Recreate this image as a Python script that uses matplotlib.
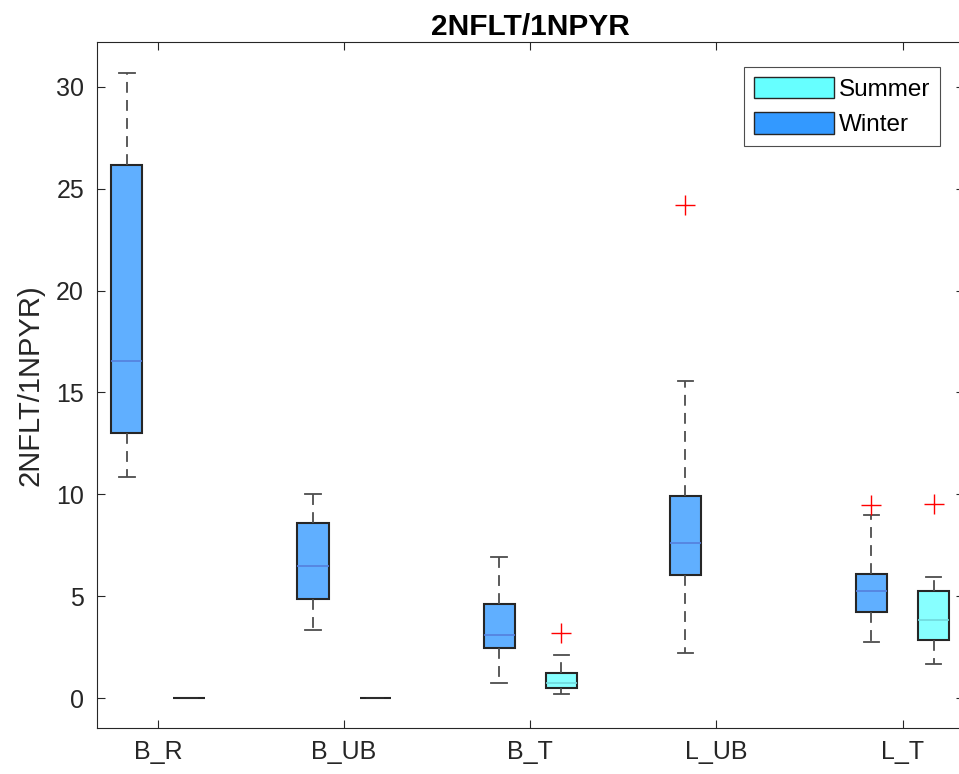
import matplotlib.pyplot as plt
from matplotlib.patches import Patch

plt.rcParams["font.family"] = ["Liberation Sans", "DejaVu Sans"]

sites = ["B_R", "B_UB", "B_T", "L_UB", "L_T"]

# winter box statistics (whisker low, q1, median, q3, whisker high)
winter_low = [10.86, 3.33, 0.73, 2.2, 2.74]
winter_q1 = [13.02, 4.85, 2.46, 6.03, 4.23]
winter_med = [16.53, 6.47, 3.08, 7.6, 5.23]
winter_q3 = [26.15, 8.6, 4.63, 9.93, 6.11]
winter_high = [30.67, 10.0, 6.9, 15.54, 8.96]
winter_fliers = [[], [], [], [24.18], [9.46]]

# summer box statistics
summer_low = [0.0, 0.0, 0.19, 0.0, 1.69]
summer_q1 = [0.0, 0.0, 0.48, 0.0, 2.83]
summer_med = [0.0, 0.0, 0.76, 0.0, 3.85]
summer_q3 = [0.0, 0.0, 1.25, 0.0, 5.24]
summer_high = [0.0, 0.0, 2.12, 0.0, 5.96]
summer_fliers = [[], [], [3.2], [], [9.52]]
summer_present = [True, True, True, False, True]


def make_stats(low, q1, med, q3, high, fliers, keep=None):
    stats = []
    for i in range(len(low)):
        if keep is not None and not keep[i]:
            continue
        stats.append(dict(whislo=low[i], q1=q1[i], med=med[i], q3=q3[i],
                          whishi=high[i], fliers=fliers[i]))
    return stats


fig = plt.figure(figsize=(9.59, 7.74), dpi=100)
ax = fig.add_axes([96.5 / 959, 46 / 774, (964 - 96.5) / 959, (728 - 42) / 774])

edge = "0.15"
offset = 0.167
width = 0.167

groups = [
    ("winter", make_stats(winter_low, winter_q1, winter_med, winter_q3, winter_high, winter_fliers),
     [i + 1 - offset for i in range(len(sites))], (0.2, 0.6, 1.0, 0.78), "#5580dd"),
    ("summer", make_stats(summer_low, summer_q1, summer_med, summer_q3, summer_high, summer_fliers,
                          summer_present),
     [i + 1 + offset for i in range(len(sites)) if summer_present[i]], (0.4, 1.0, 1.0, 0.78), "#70d8dc"),
]

for name, stats, pos, face, medc in groups:
    res = ax.bxp(stats, positions=pos, widths=width, capwidths=width / 2,
                 patch_artist=True, manage_ticks=False,
                 boxprops=dict(facecolor=face, edgecolor=edge, linewidth=1.5),
                 whiskerprops=dict(color="0.3", linewidth=1.3, dashes=(6, 4)),
                 capprops=dict(color="0.3", linewidth=1.3),
                 medianprops=dict(color=medc, linewidth=1.2),
                 flierprops=dict(marker="+", markeredgecolor="red", markersize=14,
                                 markeredgewidth=1.0, linestyle="none"))
    # flat boxes (all zeros) show as a plain dark line
    for line, s in zip(res["medians"], stats):
        if s["q1"] == s["q3"]:
            line.set_color(edge)

ax.set_xlim(1 - 0.33, len(sites) + 0.33)
ax.set_ylim(-1.47, 32.2)
ax.set_xticks(range(1, len(sites) + 1), sites)
ax.set_yticks(range(0, 31, 5))

ax.tick_params(direction="in", length=6, width=0.8, colors="0.15",
               labelsize=18, top=True, right=True, pad=9)
for sp in ax.spines.values():
    sp.set_color("0.15")
    sp.set_linewidth(0.8)

ax.set_title("2NFLT/1NPYR", fontsize=21.5, fontweight="bold", pad=5)
ax.set_ylabel("2NFLT/1NPYR)", fontsize=21, color="0.15", labelpad=8)

handles = [Patch(facecolor="#66ffff", edgecolor="0.15", label="Summer"),
           Patch(facecolor="#3399ff", edgecolor="0.15", label="Winter")]
leg = ax.legend(handles=handles, loc="upper right", bbox_to_anchor=(0.972, 0.9636),
                fontsize=17.5, fancybox=False, edgecolor="0.3", framealpha=1,
                handlelength=3.3, handleheight=1.0, handletextpad=0.2,
                borderpad=0.4, labelspacing=0.45, borderaxespad=0)
leg.get_frame().set_linewidth(0.8)

fig.savefig("out.png", dpi=100)
